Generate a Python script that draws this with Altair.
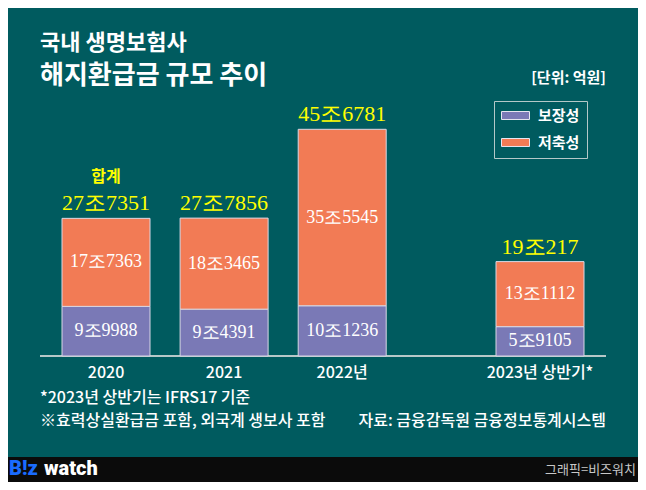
import altair as alt
import pandas as pd

# ---- data (억원) ----
categories = ["2020", "2021", "2022년", "2023년 상반기*"]
protection = [99988, 94391, 101236, 59105]   # 보장성
savings = [177363, 183465, 355545, 131112]   # 저축성
series_names = ["보장성", "저축성"]
colors = ["#7a79b6", "#f27b55"]

BG = "#005b5f"
W, H = 630, 474
GAP = 0.675  # extra spacing before the last (half-year) bar, in slot units
K = 0.0004963  # px per 억원
BASE = 348


def jo(v):
    return f"{v // 10000}조{v % 10000}"


rows = []
for i, c in enumerate(categories):
    slot = i + (GAP if i >= 3 else 0)
    rows.append(dict(cat=c, slot=slot, series="보장성", order=0, value=protection[i],
                     mid=protection[i] / 2, label=jo(protection[i])))
    rows.append(dict(cat=c, slot=slot, series="저축성", order=1, value=savings[i],
                     mid=protection[i] + savings[i] / 2, label=jo(savings[i])))
df = pd.DataFrame(rows)

tot = pd.DataFrame(dict(
    cat=categories,
    slot=[i + (GAP if i >= 3 else 0) for i in range(len(categories))],
    total=[p + s for p, s in zip(protection, savings)],
))
tot["label"] = tot["total"].apply(jo)
tot["zero"] = 0
tot["word"] = ["합계", "", "", ""]

xs = alt.Scale(domain=[-0.7875, 4.4625], nice=False, zero=False)
ys = alt.Scale(domain=[-(H - BASE) / K, BASE / K], nice=False, zero=False)
X = alt.X("slot:Q", scale=xs, axis=None)

bars = alt.Chart(df).mark_bar(size=88, stroke="#d8d8e6", strokeWidth=1).encode(
    x=X,
    y=alt.Y("value:Q", stack="zero", scale=ys, axis=None),
    color=alt.Color("series:N", scale=alt.Scale(domain=series_names, range=colors),
                    legend=alt.Legend(
                        orient="none", legendX=486, legendY=93, title=None,
                        symbolType="M-1,-0.57H3V0.57H-1Z", symbolSize=196,
                        symbolStrokeColor="#e6e6f0", symbolStrokeWidth=1,
                        labelFont="Noto Sans CJK KR", labelFontSize=15,
                        labelFontWeight="bold", labelColor="white", labelOffset=22,
                        padding=7, rowPadding=11, strokeColor="#b4c8c8",
                    )),
    order=alt.Order("order:Q"),
)

inner = alt.Chart(df).mark_text(font="Liberation Serif", fontSize=18, color="white",
                                baseline="middle").encode(
    x=X, y=alt.Y("mid:Q", scale=ys, axis=None), text="label:N")

totals = alt.Chart(tot).mark_text(font="Liberation Serif", fontSize=22, color="#ffff00",
                                  baseline="alphabetic", dy=-8).encode(
    x=X, y=alt.Y("total:Q", scale=ys, axis=None), text="label:N")

sum_word = alt.Chart(tot).mark_text(font="Noto Sans CJK KR", fontSize=16,
                                    fontWeight="bold", color="#ffff00",
                                    baseline="middle", dy=-41).encode(
    x=X, y=alt.Y("total:Q", scale=ys, axis=None), text="word:N")

cat_labels = alt.Chart(tot).mark_text(font="Noto Sans CJK KR", fontSize=16,
                                      fontWeight=500, color="white",
                                      baseline="middle", dy=17).encode(
    x=X, y=alt.Y("zero:Q", scale=ys, axis=None), text="cat:N")

baseline = alt.Chart(tot).mark_rule(color="#b8c8c8", strokeWidth=1.5).encode(
    x=alt.value(32), x2=alt.value(598), y=alt.Y("zero:Q", scale=ys, axis=None))

footer_band = alt.Chart(tot).mark_rect(color="#0b0b0b").encode(
    x=alt.value(0), x2=alt.value(W), y=alt.value(449), y2=alt.value(H))


def note(text, x, y, size, color="white", weight="normal", align="left", font="Noto Sans CJK KR"):
    return alt.Chart(pd.DataFrame({"t": [text]})).mark_text(
        font=font, fontSize=size, fontWeight=weight, color=color, align=align,
        baseline="middle").encode(x=alt.value(x), y=alt.value(y), text="t:N")


texts = [
    note("국내 생명보험사", 32, 35, 22, weight="bold"),
    note("해지환급금 규모 추이", 32, 68, 26, weight="bold"),
    note("[단위: 억원]", 598, 70, 15, weight="bold", align="right"),
    note("*2023년 상반기는 IFRS17 기준", 32, 390, 16, weight=500),
    note("※효력상실환급금 포함, 외국계 생보사 포함", 32, 413, 16, weight=500),
    note("자료: 금융감독원 금융정보통계시스템", 598, 413, 16, weight=500, align="right"),
    note("B!z", 1, 461, 20, color="#1a6cff", weight=900, font="Roboto"),
    note("watch", 36, 461, 20, color="white", weight=900, font="Roboto"),
    note("그래픽=비즈워치", 628, 462, 13, color="#c8c8c8", align="right"),
]

chart = alt.layer(
    footer_band, baseline, bars, inner, totals, sum_word, cat_labels, *texts
).properties(
    width=W, height=H, autosize=alt.AutoSizeParams(type="none"), padding=0,
    background=BG,
).configure_view(stroke=None)

chart.save("out.html", embed_options={"renderer": "svg", "actions": False})
